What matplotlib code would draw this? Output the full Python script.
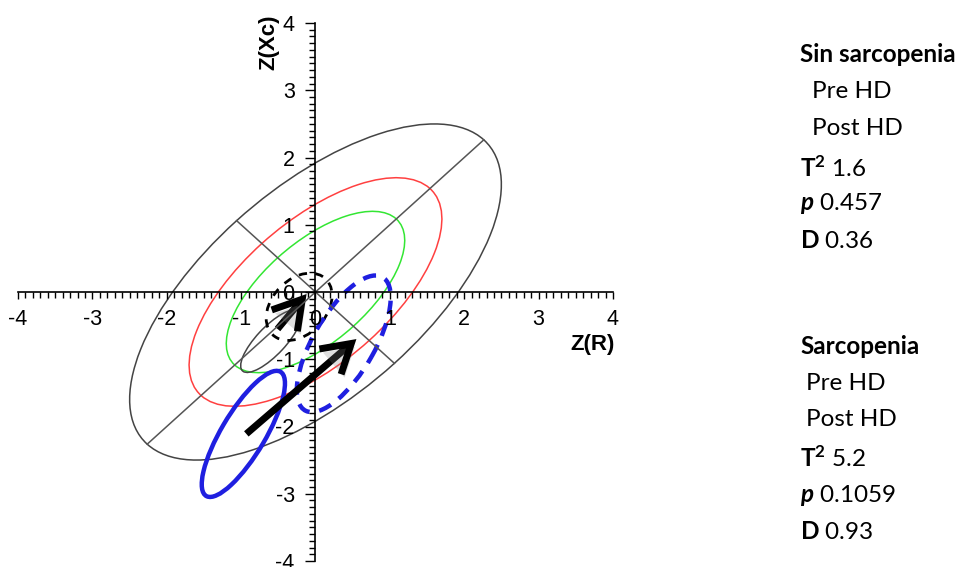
import numpy as np
import matplotlib
matplotlib.use("Agg")
import matplotlib.pyplot as plt
from matplotlib.patches import Ellipse, FancyArrowPatch
from matplotlib.ticker import MultipleLocator
import matplotlib.patheffects as pe

# reference tolerance ellipses (50%, 75%, 95%), centred on 0,0
tol_levels = ["50%", "75%", "95%"]
tol_scale = [0.48, 0.68, 1.0]
tol_a95 = 3.2
tol_b95 = 1.5
tol_angle = 45

# confidence ellipses of each group
groups = ["Sin sarcopenia Pre HD", "Sin sarcopenia Post HD", "Sarcopenia Pre HD", "Sarcopenia Post HD"]
ell_cx = [-0.60, -0.22, -0.97, 0.38]
ell_cy = [-0.73, -0.22, -2.11, -0.77]
ell_a = [0.585, 0.55, 1.05, 1.12]
ell_b = [0.20, 0.38, 0.30, 0.42]
ell_angle = [50, 55, 62, 63]

# arrows pre -> post
arrow_x0 = [-0.51, -0.93]
arrow_y0 = [-0.55, -2.11]
arrow_x1 = [-0.12, 0.55]
arrow_y1 = [-0.03, -0.70]

# legend stats
legend_titles = ["Sin sarcopenia", "Sarcopenia"]
t2_values = ["1.6", "5.2"]
p_values = ["0.457", "0.1059"]
d_values = ["0.36", "0.93"]

plt.rcParams["axes.unicode_minus"] = False
plt.rcParams["font.family"] = ["Liberation Sans", "DejaVu Sans"]
plt.rcParams["xtick.labelsize"] = 15.5
plt.rcParams["ytick.labelsize"] = 15.5
plt.rcParams["mathtext.fontset"] = "custom"
plt.rcParams["mathtext.rm"] = "Lato"
plt.rcParams["mathtext.bf"] = "Lato:bold"
plt.rcParams["mathtext.it"] = "Lato:italic"
plt.rcParams["mathtext.bfit"] = "Lato:bold:italic"

fig = plt.figure(figsize=(9.62, 5.67), dpi=100)
ax = fig.add_axes([18 / 962, 6 / 567, 595 / 962, 538 / 567])
ax.set_xlim(-4, 4)
ax.set_ylim(-4, 4)

for s in ["top", "right"]:
    ax.spines[s].set_visible(False)
ax.spines["left"].set_position(("data", 0))
ax.spines["bottom"].set_position(("data", 0))
ax.spines["left"].set_linewidth(1.2)
ax.spines["bottom"].set_linewidth(1.2)

ax.xaxis.set_major_locator(MultipleLocator(1))
ax.yaxis.set_major_locator(MultipleLocator(1))
ax.xaxis.set_minor_locator(MultipleLocator(0.1))
ax.yaxis.set_minor_locator(MultipleLocator(0.1))
ax.tick_params(axis="x", which="major", length=5, width=1, pad=7)
ax.tick_params(axis="y", which="major", length=7, width=1, pad=8)
ax.tick_params(which="minor", length=4.5, width=1)

# tolerance ellipses
tol_colors = ["#33e633", "#ff4040", "#444444"]
for sc, col in zip(tol_scale, tol_colors):
    ax.add_patch(Ellipse((0, 0), 2 * tol_a95 * sc, 2 * tol_b95 * sc, angle=tol_angle,
                         fill=False, edgecolor=col, lw=1.1))

# major and minor axes of the 95% ellipse
th = np.deg2rad(tol_angle)
ax.plot([-tol_a95 * np.cos(th), tol_a95 * np.cos(th)],
        [-tol_a95 * np.sin(th), tol_a95 * np.sin(th)], color="#555555", lw=1.1)
ax.plot([tol_b95 * np.sin(th), -tol_b95 * np.sin(th)],
        [-tol_b95 * np.cos(th), tol_b95 * np.cos(th)], color="#555555", lw=1.1)

# group ellipses
ell_styles = [
    dict(edgecolor="#444444", lw=1.1, ls="-"),
    dict(edgecolor="black", lw=2.0, ls=(0, (3, 3))),
    dict(edgecolor="#1f1fe0", lw=3.2, ls="-"),
    dict(edgecolor="#1f1fe0", lw=3.2, ls=(0, (3, 2.2))),
]
for i in range(len(groups)):
    ax.add_patch(Ellipse((ell_cx[i], ell_cy[i]), 2 * ell_a[i], 2 * ell_b[i], angle=ell_angle[i],
                         fill=False, **ell_styles[i]))

# arrows
for i in range(len(arrow_x0)):
    arr = FancyArrowPatch((arrow_x0[i], arrow_y0[i]), (arrow_x1[i], arrow_y1[i]),
                          arrowstyle="->,head_length=1.0,head_width=0.6", color="black",
                          lw=5, mutation_scale=20, shrinkA=0, shrinkB=0,
                          capstyle="butt", joinstyle="miter")
    arr.set_path_effects([pe.SimplePatchShadow(offset=(2.5, -2.5), alpha=0.25, shadow_rgbFace="gray"),
                          pe.Normal()])
    ax.add_patch(arr)

# axis labels
ax.text(1.003, 0.402, "Z(R)", transform=ax.transAxes, ha="right", va="center",
        fontsize=16, fontweight="bold")
ax.text(0.422, 0.965, "Z(Xc)", transform=ax.transAxes, ha="center", va="center",
        rotation=90, fontsize=16, fontweight="bold")

# legend text blocks
lx = 800 / 962
fs = 17.5
for k, y0 in enumerate([55, 346]):
    indent = [12, 6][k] / 962
    fig.text(lx, 1 - y0 / 567, legend_titles[k], fontsize=fs, fontweight="bold",
             family="Lato", va="center")
    fig.text(lx + indent, 1 - (y0 + 37) / 567, "Pre HD", fontsize=fs, family="Lato", va="center")
    fig.text(lx + indent, 1 - (y0 + 74) / 567, "Post HD", fontsize=fs, family="Lato", va="center")
    fig.text(lx, 1 - (y0 + 112) / 567, r"$\mathbf{T}^{\mathbf{2}}$ " + t2_values[k],
             fontsize=fs, family="Lato", va="center")
    fig.text(lx, 1 - (y0 + 149) / 567, r"$\mathbfit{p}$ " + p_values[k],
             fontsize=fs, family="Lato", va="center")
    fig.text(lx, 1 - (y0 + 186) / 567, r"$\mathbf{D}$ " + d_values[k],
             fontsize=fs, family="Lato", va="center")

fig.savefig("out.png", dpi=100)
